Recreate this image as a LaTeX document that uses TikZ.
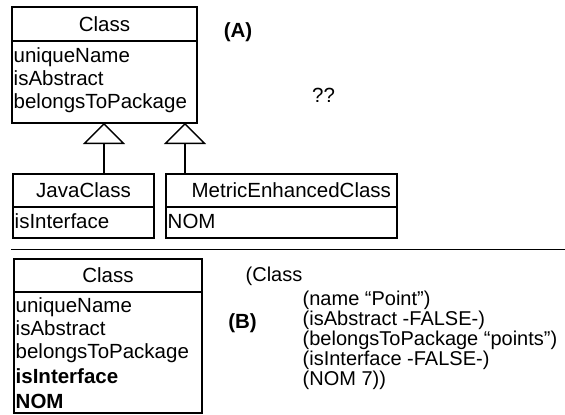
\documentclass[tikz,border=0pt]{standalone}
\usepackage{fontspec}
\setmainfont{Liberation Sans}
\usetikzlibrary{arrows.meta}

\begin{document}
\begin{tikzpicture}[x=1pt, y=-1pt, line width=1.4pt,
    every node/.style={font=\fontsize{20.5}{24}\selectfont},
    box/.style={draw, inner sep=0pt, outer sep=0pt},
    cname/.style={box, minimum height=33pt, anchor=north west},
    cattr/.style={box, anchor=north},
    txt/.style={inner sep=0pt, anchor=base west},
    code/.style={txt, font=\fontsize{20}{24}\selectfont},
    tag/.style={inner sep=0pt, font=\fontsize{20.5}{24}\selectfont\bfseries},
    gen/.style={-{Triangle[open, length=21pt, width=42pt, line width=1.4pt]}}]
			\useasboundingbox (0,0) rectangle (565,415);
			% (A) the two subclasses
			\node[cname, minimum width=185pt, minimum height=34pt] (cls) at (12,7) {Class};
			\node[cattr, minimum width=185pt, minimum height=82pt] (clsbody) at (cls.south) {};
			\node[txt] (clsname) at (13,62) {uniqueName};
			\node[txt] (clsabs) at (13,85) {isAbstract};
			\node[txt] (clspkg) at (13,108) {belongsToPackage};
			\node[cname, minimum width=141pt] (java) at (13,174) {JavaClass};
			\node[cattr, minimum width=141pt, minimum height=31pt] (javabody) at (java.south) {};
			\node[txt] (javaintf) at (14,228) {isInterface};
			\node[cname, text width=219pt, align=right, inner xsep=6pt] (metric) at (166,174) {MetricEnhancedClass};
			\node[cattr, minimum width=231pt, minimum height=31pt] (metricbody) at (metric.south) {};
			\node[txt] (metricnom) at (167,228) {NOM};
			\coordinate (javaup) at (104,174);
			\coordinate (metricup) at (185,174);
			\draw[gen] (javaup) -- (javaup |- clsbody.south);
			\draw[gen] (metricup) -- (metricup |- clsbody.south);
			\node[tag] (taga) at (238,32) {(A)};
			\node[inner sep=0pt] (unknown) at (323.5,95) {??};
			% separator
			\coordinate (sepl) at (11,249.5);
			\coordinate (sepr) at (565,249.5);
			\draw (sepl) -- (sepr);
			% (B) the merged class
			\node[cname, minimum width=188pt] (merged) at (14,259) {Class};
			\node[cattr, minimum width=188pt, minimum height=121pt] (mergedbody) at (merged.south) {};
			\node[txt] (mname) at (15,312) {uniqueName};
			\node[txt] (mabs) at (15,335) {isAbstract};
			\node[txt] (mpkg) at (15,358) {belongsToPackage};
			\node[txt, font=\fontsize{20.5}{24}\selectfont\bfseries] (mintf) at (15,383) {isInterface};
			\node[txt, font=\fontsize{20.5}{24}\selectfont\bfseries] (mnom) at (15,408) {NOM};
			\node[tag] (tagb) at (242.5,323) {(B)};
			\node[code] (inst) at (245,281) {(Class};
			\node[code] (iname) at (302,305) {(name “Point”)};
			\node[code] (iabs) at (302,325) {(isAbstract -FALSE-)};
			\node[code] (ipkg) at (302,345) {(belongsToPackage “points”)};
			\node[code] (iintf) at (302,365) {(isInterface -FALSE-)};
			\node[code] (inom) at (302,385) {(NOM 7))};
\end{tikzpicture}
\end{document}
